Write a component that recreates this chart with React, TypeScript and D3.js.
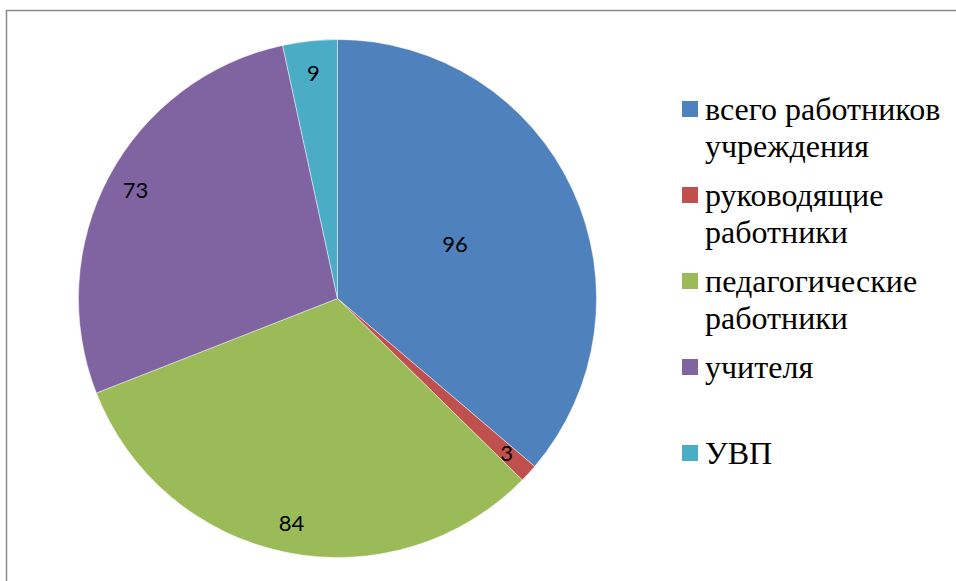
import React, { useEffect, useRef } from 'react';
import * as d3 from 'd3';

// chart data
const categories = [
  'всего работников учреждения',
  'руководящие работники',
  'педагогические работники',
  'учителя',
  'УВП',
];
const values = [96, 3, 84, 73, 9];
const colors = ['#4F81BD', '#C0504D', '#9BBB59', '#8064A2', '#4BACC6'];

// where Excel put each data label, as a fraction of the radius
const labelRadius = [0.5, 0.885, 0.885, 0.885, 0.875];

const wrapLabel = (text: string, maxChars: number) => {
  const lines: string[] = [];
  let cur = '';
  text.split(' ').forEach(w => {
    const next = cur ? cur + ' ' + w : w;
    if (next.length > maxChars && cur) {
      lines.push(cur);
      cur = w;
    } else {
      cur = next;
    }
  });
  if (cur) lines.push(cur);
  return lines;
};

const App: React.FC = () => {
  const ref = useRef<SVGSVGElement | null>(null);

  useEffect(() => {
    if (!ref.current) return;
    const width = 956;
    const height = 581;
    const cx = 337.5;
    const cy = 298.5;
    const radius = 259;

    const svg = d3.select(ref.current)
      .attr('width', width)
      .attr('height', height);

    // outer frame (only left and top edges are inside the picture)
    svg.append('path')
      .attr('d', `M6.5,${height} V10.5 H${width}`)
      .attr('fill', 'none')
      .attr('stroke', '#898989')
      .attr('stroke-width', 1.5);

    const pie = d3.pie<number>().sort(null).value(d => d)(values);
    const arc = d3.arc<d3.PieArcDatum<number>>().innerRadius(0).outerRadius(radius);

    const g = svg.append('g').attr('transform', `translate(${cx},${cy})`);

    g.selectAll('path')
      .data(pie)
      .enter()
      .append('path')
      .attr('d', arc)
      .attr('fill', (d, i) => colors[i])
      .attr('stroke', '#ffffff')
      .attr('stroke-opacity', 0.6)
      .attr('stroke-width', 0.75);

    g.selectAll('text.value')
      .data(pie)
      .enter()
      .append('text')
      .attr('class', 'value')
      .attr('transform', (d, i) => {
        const r = radius * labelRadius[i];
        const la = d3.arc<d3.PieArcDatum<number>>().innerRadius(r).outerRadius(r);
        const [x, y] = la.centroid(d);
        return `translate(${x},${y})`;
      })
      .attr('text-anchor', 'middle')
      .attr('dy', '0.36em')
      .attr('font-family', 'Lato, "Open Sans", sans-serif')
      .attr('font-size', 22)
      .attr('fill', '#000')
      .text(d => String(d.data));

    // legend
    const legend = svg.append('g').attr('transform', 'translate(682,101)');
    categories.forEach((label, i) => {
      const row = legend.append('g').attr('transform', `translate(0,${i * 86})`);
      row.append('rect')
        .attr('width', 16)
        .attr('height', 16)
        .attr('fill', colors[i]);
      const text = row.append('text')
        .attr('x', 23)
        .attr('y', 19)
        .attr('font-family', "'Liberation Serif', 'DejaVu Serif', 'Times New Roman', serif")
        .attr('font-size', 32)
        .attr('fill', '#000');
      wrapLabel(label, 17).forEach((line, j) => {
        text.append('tspan')
          .attr('x', 23)
          .attr('dy', j === 0 ? 0 : 36.5)
          .text(line);
      });
    });

    return () => {
      d3.select(ref.current).selectAll('*').remove();
    };
  }, []);

  return (
    <div style={{ position: 'absolute', left: 0, top: 0, background: '#fff' }}>
      <svg ref={ref} style={{ display: 'block' }}></svg>
    </div>
  );
};

export default App;
